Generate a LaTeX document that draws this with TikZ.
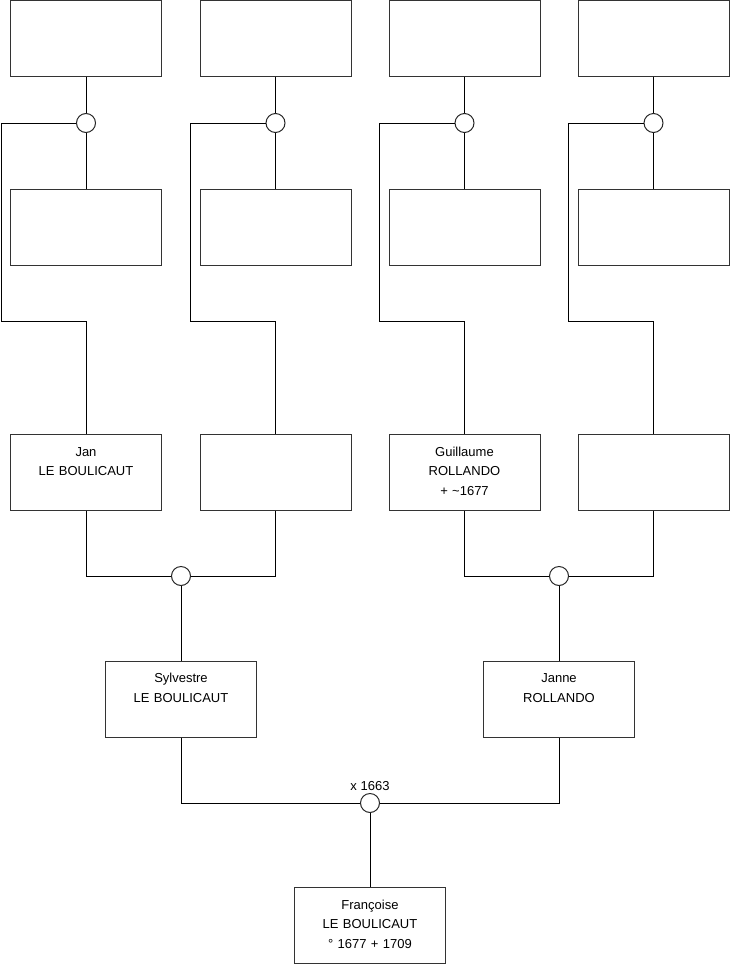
\documentclass[tikz,border=0pt]{standalone}
\usepackage{fontspec}
\setmainfont{Liberation Sans}
\usepackage{tikz}
\usetikzlibrary{positioning}
\tikzstyle{person} = [rectangle, minimum width=151pt, minimum height=76pt, inner sep=5pt, text width=141pt, align=center, text height=16.5pt, text depth=49.5pt, draw=black!80, fill=white, font=\fontsize{13}{19.5}\selectfont]
\tikzstyle{union} = [circle, minimum size=19pt, inner sep=0pt, draw=black!85, fill=white]
\tikzstyle{link} = [line width=1pt, black]

\begin{document}
\begin{tikzpicture}[x=1pt, y=-1pt, line width=1pt]
\useasboundingbox (0,0) rectangle (740,975);

% top generation
\node (g1) [person] at (86,38) {};
\node (g2) [person] at (275.5,38) {};
\node (g3) [person] at (464.5,38) {};
\node (g4) [person] at (653.5,38) {};
\node (h1) [person] at (86,227) {};
\node (h2) [person] at (275.5,227) {};
\node (h3) [person] at (464.5,227) {};
\node (h4) [person] at (653.5,227) {};
\node (u1) [union] at (86,123) {};
\node (u2) [union] at (275.5,123) {};
\node (u3) [union] at (464.5,123) {};
\node (u4) [union] at (653.5,123) {};
\coordinate (k1) at (1,321);
\coordinate (k2) at (190,321);
\coordinate (k3) at (379,321);
\coordinate (k4) at (568,321);

% grandparents
\node (jan) [person] at (86,472.5) {Jan\\LE BOULICAUT};
\node (p2) [person] at (275.5,472.5) {};
\node (guillaume) [person] at (464.5,472.5) {Guillaume\\ROLLANDO\\+ \textasciitilde1677};
\node (p4) [person] at (653.5,472.5) {};
\node (u5) [union] at (181,576) {};
\node (u6) [union] at (559,576) {};

% parents
\node (sylvestre) [person] at (181,699) {Sylvestre\\LE BOULICAUT};
\node (janne) [person] at (559,699) {Janne\\ROLLANDO};
\node (u7) [union, label={[inner sep=2pt, font=\fontsize{13}{15}\selectfont]above:x 1663}] at (370,803) {};

\node (francoise) [person] at (370,925.5) {Françoise\\LE BOULICAUT\\° 1677 + 1709};

\foreach \i in {1,...,4} {
  \draw [link] (g\i) -- (u\i);
  \draw [link] (u\i) -- (h\i);
}
\draw [link] (u1) -| (k1) -| (jan);
\draw [link] (u2) -| (k2) -| (p2);
\draw [link] (u3) -| (k3) -| (guillaume);
\draw [link] (u4) -| (k4) -| (p4);

\draw [link] (jan) |- (u5) -| (p2);
\draw [link] (guillaume) |- (u6) -| (p4);
\draw [link] (u5) -- (sylvestre);
\draw [link] (u6) -- (janne);

\draw [link] (sylvestre) |- (u7) -| (janne);
\draw [link] (u7) -- (francoise);

\end{tikzpicture}
\end{document}
